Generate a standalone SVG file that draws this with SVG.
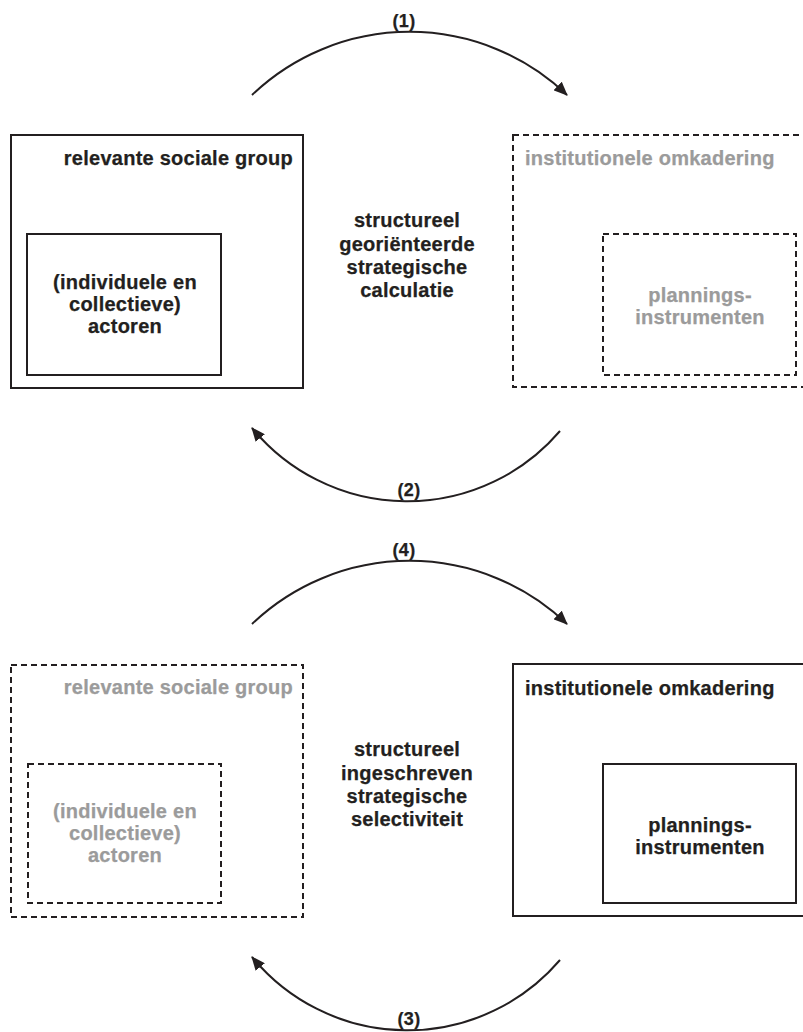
<svg xmlns="http://www.w3.org/2000/svg" width="803" height="1032" viewBox="0 0 803 1032">
  <style>
    .box { fill: none; stroke: #231f20; stroke-width: 2; }
    .dash { stroke-dasharray: 6 4; }
    .t { font-family: "Liberation Sans", Arial, sans-serif; font-weight: bold; font-size: 20px; letter-spacing: 0.25px; fill: #231f20; stroke: #231f20; stroke-width: 0.25px; }
    .grey { fill: #9b9b9b; stroke: #9b9b9b; }
    .mid { text-anchor: middle; }
    .end { text-anchor: end; }
    .num { font-size: 18px; letter-spacing: 0.3px; }
    .arc { fill: none; stroke: #231f20; stroke-width: 2; }
  </style>
  <defs>
    <marker id="head" viewBox="0 0 14 12" refX="13" refY="6" markerWidth="14" markerHeight="12" markerUnits="userSpaceOnUse" orient="auto">
      <path d="M0,0 L14,6 L0,12 z" fill="#231f20"/>
    </marker>
  </defs>
  <rect width="803" height="1032" fill="#ffffff"/>

  <!-- upper half -->
  <g id="group-top">
    <rect class="box" x="11" y="135" width="292" height="253"/>
    <text class="t end" x="293" y="165">relevante sociale group</text>
  </g>
  <g id="actors-top">
    <rect class="box" x="27" y="234" width="194" height="141"/>
    <text class="t mid" x="125" y="289">(individuele en</text>
    <text class="t mid" x="125" y="311">collectieve)</text>
    <text class="t mid" x="125" y="333">actoren</text>
  </g>
  <g id="framework-top">
    <rect class="box dash" x="513" y="135" width="296" height="252"/>
    <text class="t grey" x="525" y="165">institutionele omkadering</text>
  </g>
  <g id="instruments-top">
    <rect class="box dash" x="603" y="234" width="193" height="141"/>
    <text class="t grey mid" x="700" y="302">plannings-</text>
    <text class="t grey mid" x="700" y="324">instrumenten</text>
  </g>
  <g id="calc-top">
    <text class="t mid" x="407" y="227">structureel</text>
    <text class="t mid" x="407" y="250.5">georiënteerde</text>
    <text class="t mid" x="407" y="274">strategische</text>
    <text class="t mid" x="407" y="297">calculatie</text>
  </g>

  <!-- lower half -->
  <g id="group-bottom">
    <rect class="box dash" x="11" y="665" width="292" height="252"/>
    <text class="t grey end" x="293" y="694">relevante sociale group</text>
  </g>
  <g id="actors-bottom">
    <rect class="box dash" x="28" y="764" width="193" height="139"/>
    <text class="t grey mid" x="125" y="818">(individuele en</text>
    <text class="t grey mid" x="125" y="840">collectieve)</text>
    <text class="t grey mid" x="125" y="862">actoren</text>
  </g>
  <g id="framework-bottom">
    <rect class="box" x="513" y="664" width="296" height="252"/>
    <text class="t" x="525" y="695">institutionele omkadering</text>
  </g>
  <g id="instruments-bottom">
    <rect class="box" x="603" y="764" width="193" height="139"/>
    <text class="t mid" x="700" y="832">plannings-</text>
    <text class="t mid" x="700" y="854">instrumenten</text>
  </g>
  <g id="select-bottom">
    <text class="t mid" x="407" y="756">structureel</text>
    <text class="t mid" x="407" y="779.5">ingeschreven</text>
    <text class="t mid" x="407" y="803">strategische</text>
    <text class="t mid" x="407" y="826">selectiviteit</text>
  </g>

  <!-- connectors -->
  <g id="connectors">
    <path class="arc" d="M252,95 A228,228 0 0 1 567,95" marker-end="url(#head)"/>
    <text class="t mid num" x="404" y="27">(1)</text>
    <path class="arc" d="M560,431 A201,201 0 0 1 252,428" marker-end="url(#head)"/>
    <text class="t mid num" x="409" y="496">(2)</text>
    <path class="arc" d="M252,624 A228,228 0 0 1 567,624" marker-end="url(#head)"/>
    <text class="t mid num" x="404" y="556">(4)</text>
    <path class="arc" d="M560,960 A201,201 0 0 1 252,957" marker-end="url(#head)"/>
    <text class="t mid num" x="409" y="1025">(3)</text>
  </g>
</svg>
